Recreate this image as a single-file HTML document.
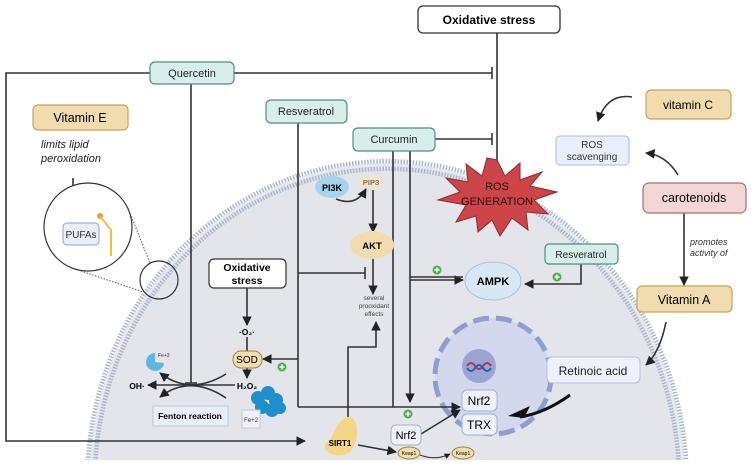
<!DOCTYPE html>
<html><head><meta charset="utf-8"><style>
html,body{margin:0;padding:0;background:#fff;width:753px;height:467px;overflow:hidden}
svg{display:block;font-family:"Liberation Sans",sans-serif}
</style></head><body>
<svg width="753" height="467" viewBox="0 0 753 467" xmlns="http://www.w3.org/2000/svg">
<defs>
<marker id="ah" viewBox="0 0 10 10" refX="9" refY="5" markerWidth="6" markerHeight="6" orient="auto"><path d="M0,0 L10,5 L0,10 z" fill="#222"/></marker>
<clipPath id="cp"><rect x="0" y="0" width="753" height="460"/></clipPath>
</defs>
<g clip-path="url(#cp)">
<ellipse cx="387" cy="482" rx="296" ry="317" fill="#e4e5ea"/>
<ellipse cx="387" cy="482" rx="296" ry="317" fill="none" stroke="#a9b6cb" stroke-width="12" stroke-dasharray="1.5 1.5"/>
<ellipse cx="387" cy="482" rx="296" ry="317" fill="none" stroke="#e4e8f0" stroke-width="3"/>
</g>
<circle cx="493" cy="376" r="58" fill="#d4d8ec" stroke="#8d9ed2" stroke-width="5" stroke-dasharray="16 7"/>
<circle cx="479" cy="366" r="17" fill="#9aa5d6"/>
<path d="M467,366 q4,-6 8,0 t8,0 t8,0" stroke="#c03040" stroke-width="2" fill="none"/>
<path d="M467,368 q4,6 8,0 t8,0 t8,0" stroke="#2a5fb0" stroke-width="2" fill="none"/>

<g stroke="#333" stroke-width="1.6" fill="none">
<line x1="497" y1="33" x2="497" y2="165"/>
<polyline points="150,73 6,73 6,441 305,441" marker-end="url(#ah)"/>
<line x1="234" y1="73" x2="492" y2="73"/><line x1="492" y1="67" x2="492" y2="79"/>
<line x1="191" y1="84" x2="191" y2="383"/><line x1="185" y1="383" x2="197" y2="383"/>
<line x1="298" y1="123" x2="298" y2="407"/>
<polyline points="298,407 460,407" marker-end="url(#ah)"/>
<polyline points="298,359 263,359" marker-end="url(#ah)"/>
<line x1="298" y1="273" x2="365" y2="273"/><line x1="365" y1="267" x2="365" y2="279"/>
<line x1="393" y1="151" x2="393" y2="407"/>
<polyline points="410,151 410,402" marker-end="url(#ah)"/>
<polyline points="410,280 463,280" marker-end="url(#ah)"/>
<line x1="410" y1="277" x2="463" y2="277"/>
<line x1="435" y1="139" x2="492" y2="139"/><line x1="492" y1="133" x2="492" y2="145"/>
<path d="M336,199 q20,8 30,-10" marker-end="url(#ah)"/>
<polyline points="373,190 373,232" marker-end="url(#ah)"/>
<polyline points="373,258 373,294" marker-end="url(#ah)"/>
<polyline points="348,418 348,347 376,347 376,322" marker-end="url(#ah)"/>
<polyline points="247,288 247,325" marker-end="url(#ah)"/>
<line x1="247" y1="337" x2="247" y2="351"/>
<polyline points="247,368 247,378" marker-end="url(#ah)"/>
<polyline points="235,385 148,385" marker-end="url(#ah)"/>
<path d="M226,374 Q190,396 160,373" marker-end="url(#ah)"/>
<path d="M226,398 Q190,374 160,397" marker-end="url(#ah)"/>
<polyline points="581,264 581,284 525,284" marker-end="url(#ah)"/>
<polyline points="684,213 684,285" marker-end="url(#ah)"/>
<path d="M632,97 q-25,-4 -34,24" marker-end="url(#ah)"/>
<path d="M678,175 q-12,-20 -32,-22" marker-end="url(#ah)"/>
<path d="M666,322 q-6,30 -20,43" marker-end="url(#ah)"/>
<polyline points="421,434 460,410" marker-end="url(#ah)"/>
<polyline points="358,445 396,452" marker-end="url(#ah)"/>
<path d="M420,455 q15,6 30,-1" marker-end="url(#ah)" stroke-width="1"/>
<polyline points="73,178 73,206" marker-end="url(#ah)"/>
</g>
<path d="M570,395 q-25,18 -50,22" stroke="#111" stroke-width="3" fill="none"/>
<path d="M508,416 l22,-10 l-6,12 z" fill="#111"/>

<circle cx="88" cy="227" r="44" fill="#fff" stroke="#333" stroke-width="1.2"/>
<circle cx="159" cy="280" r="19" fill="none" stroke="#333" stroke-width="1.2"/>
<line x1="128" y1="208" x2="150" y2="263" stroke="#555" stroke-dasharray="1.5 1.5"/>
<line x1="78" y1="270" x2="143" y2="292" stroke="#555" stroke-dasharray="1.5 1.5"/>
<rect x="63" y="223" width="36" height="22" rx="4" fill="#e8eefa" stroke="#8ea3c8"/>
<text x="81" y="238" font-size="10" text-anchor="middle" fill="#333">PUFAs</text>
<circle cx="100" cy="216" r="3" fill="#e0a030"/>
<polyline points="100,216 111,230 111,256" stroke="#f0c040" stroke-width="2" fill="none"/>

<rect x="418" y="6" width="142" height="27" rx="5" fill="#fff" stroke="#333" stroke-width="1.3"/>
<text x="489" y="24" font-size="12" font-weight="bold" text-anchor="middle">Oxidative stress</text>
<g fill="#d8eeea" stroke="#4f8c84" stroke-width="1.2">
<rect x="150" y="62" width="84" height="22" rx="5"/>
<rect x="266" y="100" width="81" height="23" rx="5"/>
<rect x="353" y="128" width="82" height="23" rx="5"/>
<rect x="545" y="244" width="73" height="20" rx="4"/>
</g>
<g font-size="11" text-anchor="middle" fill="#222">
<text x="192" y="77">Quercetin</text>
<text x="306" y="115">Resveratrol</text>
<text x="394" y="143">Curcumin</text>
<text x="581" y="258" font-size="10">Resveratrol</text>
</g>
<rect x="33" y="105" width="95" height="25" rx="5" fill="#f0dcae" stroke="#c7a35c" stroke-width="1.2"/>
<text x="80" y="122" font-size="12.5" text-anchor="middle">Vitamin E</text>
<text x="41" y="148" font-size="11" font-style="italic" fill="#222">limits lipid</text>
<text x="41" y="162" font-size="11" font-style="italic" fill="#222">peroxidation</text>
<rect x="646" y="90" width="85" height="29" rx="5" fill="#f0dcae" stroke="#c7a35c" stroke-width="1.2"/>
<text x="688" y="109" font-size="12" text-anchor="middle">vitamin C</text>
<rect x="556" y="136" width="73" height="29" rx="4" fill="#e8eefa" stroke="#a8bbd8"/>
<text x="592" y="148" font-size="10" text-anchor="middle" fill="#333">ROS</text>
<text x="592" y="160" font-size="10" text-anchor="middle" fill="#333">scavenging</text>
<rect x="643" y="183" width="103" height="30" rx="6" fill="#f2d6d6" stroke="#a97070" stroke-width="1.2"/>
<text x="694" y="202" font-size="12.5" text-anchor="middle">carotenoids</text>
<text x="690" y="245" font-size="9" font-style="italic" fill="#333">promotes</text>
<text x="690" y="256" font-size="9" font-style="italic" fill="#333">activity of</text>
<rect x="637" y="286" width="95" height="26" rx="5" fill="#f0dcae" stroke="#c7a35c" stroke-width="1.2"/>
<text x="684" y="304" font-size="12.5" text-anchor="middle">Vitamin A</text>
<rect x="547" y="357" width="93" height="26" rx="5" fill="#eef1fa" stroke="#b4c1de"/>
<text x="593" y="375" font-size="12" text-anchor="middle" fill="#222">Retinoic acid</text>

<polygon fill="#cc4549" stroke="#8e2a2c" stroke-width="1" points="497,160 505,176 520,163 520,180 542,172 530,186 557,192 534,200 548,214 526,212 528,230 512,218 500,236 492,220 478,232 476,216 456,222 466,205 438,200 460,192 446,178 468,182 466,164 482,176 487,158"/>
<text x="497" y="190" font-size="11" text-anchor="middle" fill="#2a0a0a">ROS</text>
<text x="497" y="205" font-size="11" text-anchor="middle" fill="#2a0a0a">GENERATION</text>

<ellipse cx="332" cy="187" rx="17" ry="11" fill="#a8d3ec"/>
<text x="332" y="191" font-size="9" font-weight="bold" text-anchor="middle">PI3K</text>
<rect x="360" y="176" width="22" height="12" rx="5" fill="#f3e3c0"/>
<text x="371" y="185" font-size="7.5" text-anchor="middle" fill="#444">PIP3</text>
<ellipse cx="372" cy="245" rx="22" ry="14" fill="#f2dcae"/>
<text x="372" y="249" font-size="9.5" font-weight="bold" text-anchor="middle">AKT</text>
<g font-size="6.5" text-anchor="middle" fill="#444">
<text x="374" y="300">several</text><text x="374" y="308">prooxidant</text><text x="374" y="316">effects</text></g>

<ellipse cx="493" cy="281" rx="28" ry="19" fill="#d7e8f4" stroke="#a9c2d8"/>
<text x="493" y="285" font-size="11" font-weight="bold" text-anchor="middle">AMPK</text>

<rect x="209" y="259" width="77" height="29" rx="5" fill="#fff" stroke="#333" stroke-width="1.2"/>
<text x="247" y="271" font-size="10.5" font-weight="bold" text-anchor="middle">Oxidative</text>
<text x="247" y="284" font-size="10.5" font-weight="bold" text-anchor="middle">stress</text>
<text x="247" y="335" font-size="8.5" font-weight="bold" text-anchor="middle">·O₂·</text>
<rect x="233" y="351" width="29" height="17" rx="8" fill="#f2dcae" stroke="#a08040"/>
<text x="247" y="363" font-size="10" text-anchor="middle">SOD</text>
<text x="247" y="389" font-size="8.5" font-weight="bold" text-anchor="middle">H₂O₂</text>
<text x="137" y="389" font-size="8.5" font-weight="bold" text-anchor="middle">OH·</text>
<path d="M155,353 a9,9 0 1,0 9,10 l-9,-1 z" fill="#5bb8e6"/>
<text x="158" y="357" font-size="5" fill="#333">Fe+3</text>
<rect x="153" y="406" width="75" height="20" fill="#e8eefa" stroke="#b8c6dd"/>
<text x="190" y="419" font-size="8.5" font-weight="bold" text-anchor="middle">Fenton reaction</text>
<g fill="#1f8fcc">
<circle cx="258" cy="398" r="7"/><circle cx="268" cy="393" r="7"/><circle cx="276" cy="400" r="7"/><circle cx="262" cy="407" r="7"/><circle cx="272" cy="410" r="7"/><circle cx="280" cy="408" r="6"/></g>
<rect x="242" y="410" width="18" height="18" fill="#eef2f8" stroke="#c0c8d8"/>
<text x="251" y="422" font-size="6" text-anchor="middle" fill="#333">Fe+2</text>

<path d="M330,440 q6,-14 12,-20 q10,-8 14,4 q4,15 -6,28 q-14,8 -24,-2 q-4,-5 4,-10z" fill="#f3d787"/>
<text x="340" y="446" font-size="8" font-weight="bold" text-anchor="middle">SIRT1</text>
<rect x="462" y="390" width="35" height="21" rx="5" fill="#eef1fa" stroke="#9fb0d6"/>
<text x="479" y="405" font-size="12" text-anchor="middle">Nrf2</text>
<rect x="462" y="414" width="35" height="21" rx="5" fill="#eef1fa" stroke="#9fb0d6"/>
<text x="479" y="429" font-size="12" text-anchor="middle">TRX</text>
<rect x="391" y="425" width="30" height="20" rx="5" fill="#eef1fa" stroke="#9fb0d6"/>
<text x="406" y="439" font-size="11" text-anchor="middle">Nrf2</text>
<ellipse cx="409" cy="453" rx="11" ry="6" fill="#f2dcae" stroke="#a08040"/>
<text x="409" y="455" font-size="5" text-anchor="middle">Keap1</text>
<ellipse cx="463" cy="453" rx="11" ry="6" fill="#f2dcae" stroke="#a08040"/>
<text x="463" y="455" font-size="5" text-anchor="middle">Keap1</text>

<g fill="#4cb050"><circle cx="282" cy="367" r="4.5"/><circle cx="437" cy="270" r="4.5"/><circle cx="557" cy="277" r="4.5"/><circle cx="408" cy="414" r="4.5"/></g>
<g stroke="#fff" stroke-width="1.5">
<path d="M279.5,367h5M282,364.5v5"/><path d="M434.5,270h5M437,267.5v5"/><path d="M554.5,277h5M557,274.5v5"/><path d="M405.5,414h5M408,411.5v5"/></g>
</svg>
</body></html>
